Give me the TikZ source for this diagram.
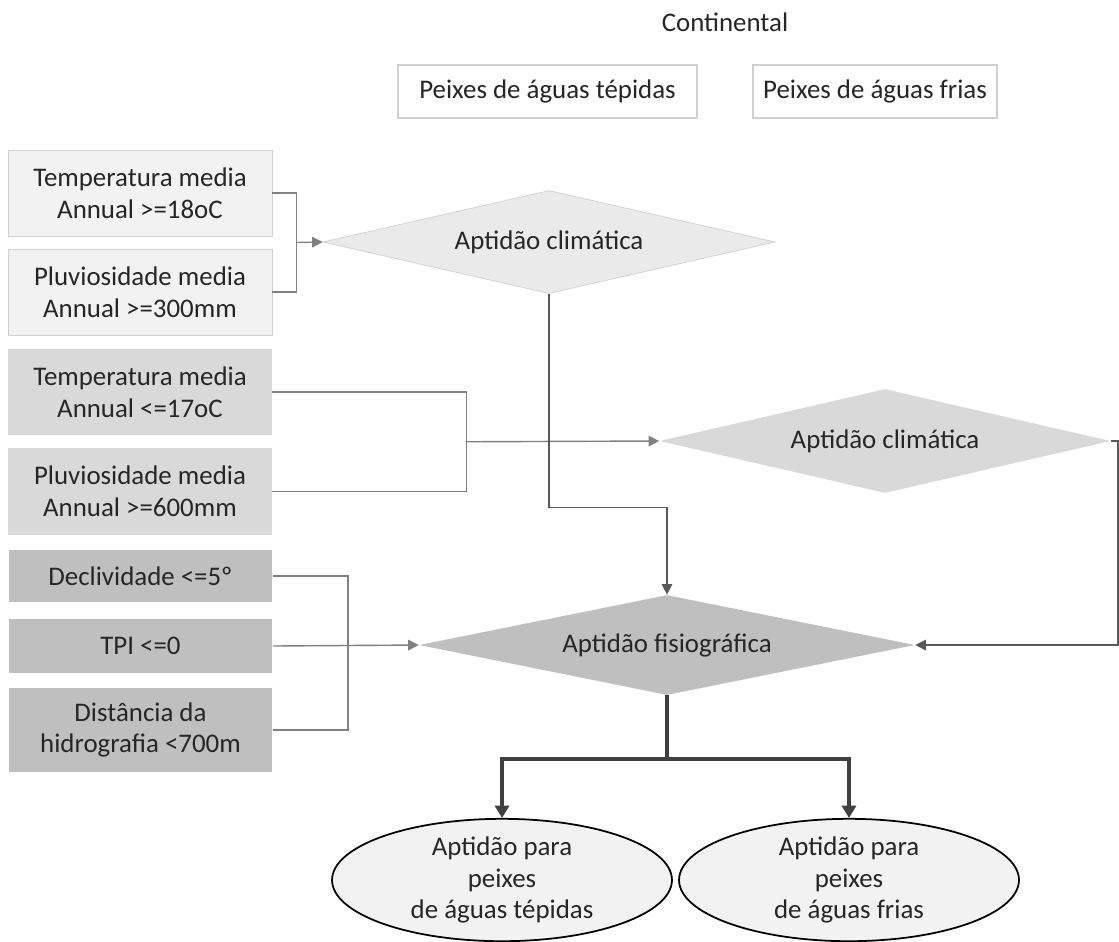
\documentclass[tikz,border=0pt]{standalone}
\usepackage{fontspec}
\setmainfont{Carlito}
\usetikzlibrary{shapes.geometric,arrows.meta,calc}
\definecolor{boxlight}{HTML}{F2F2F2}
\definecolor{boxmid}{HTML}{D9D9D9}
\definecolor{boxdark}{HTML}{BFBFBF}
\definecolor{edgelight}{HTML}{D0D0D0}
\definecolor{linegrey}{HTML}{808080}
\definecolor{linedark}{HTML}{595959}
\definecolor{linethick}{HTML}{404040}
\tikzset{
  txt/.style={font=\fontsize{15.3}{18}\selectfont, text=black!85, align=center},
  crit/.style={txt, rectangle, inner sep=2pt, minimum width=5.28cm},
  head/.style={txt, rectangle, draw=edgelight, fill=white, line width=0.8pt, minimum height=1.06cm},
  apt/.style={txt, diamond, inner sep=0pt, shape aspect=4.4},
  result/.style={txt, ellipse, draw=black, fill=boxlight, line width=1pt, minimum width=6.8cm, minimum height=2.3cm, inner sep=0pt},
  conn/.style={draw=linegrey, line width=0.8pt},
  connarrow/.style={conn, -{Triangle[length=6pt,width=6pt]}},
  bigarrow/.style={draw=linethick, line width=2.8pt, -{Triangle[length=7pt,width=8pt]}}
}

\begin{document}
\begin{tikzpicture}[x=0.02cm,y=-0.02cm]
    \useasboundingbox (0,0) rectangle (1119,941);

    % header
    \node[txt] (cont) at (725,22) {Continental};
    \node[head, minimum width=5.98cm] (tepid) at (547.5,91.5) {Peixes de águas tépidas};
    \node[head, minimum width=4.88cm] (cold) at (875,91.5) {Peixes de águas frias};

    % criteria
    \node[crit, fill=boxlight, draw=edgelight, minimum height=1.72cm] (t18) at (140,193) {Temperatura media\\Annual >=18oC};
    \node[crit, fill=boxlight, draw=edgelight, minimum height=1.72cm] (p300) at (140,292) {Pluviosidade media\\Annual >=300mm};
    \node[crit, fill=boxmid, minimum height=1.72cm] (t17) at (140,392) {Temperatura media\\Annual <=17oC};
    \node[crit, fill=boxmid, minimum height=1.74cm] (p600) at (140,491.5) {Pluviosidade media\\Annual >=600mm};
    \node[crit, fill=boxdark, minimum height=1.04cm] (decl) at (140.5,576) {Declividade <=5º};
    \node[crit, fill=boxdark, minimum height=1.08cm] (tpi) at (140.5,646) {TPI <=0};
    \node[crit, fill=boxdark, minimum height=1.68cm] (dist) at (140.5,730) {Distância da\\hidrografia <700m};

    % aptitudes
    \node[apt, fill=boxlight!70!boxmid, draw=edgelight, minimum width=9.04cm, minimum height=2.06cm] (clim1) at (549,242) {Aptidão climática};
    \node[apt, fill=boxmid, minimum width=9.02cm, minimum height=2.08cm] (clim2) at (885,441) {Aptidão climática};
    \node[apt, fill=boxdark, minimum width=9.92cm, minimum height=2.0cm] (fisio) at (667,645) {Aptidão fisiográfica};

    \node[result] (restep) at (502,880) {Aptidão para\\peixes\\de águas tépidas};
    \node[result] (rescold) at (849,880) {Aptidão para\\peixes\\de águas frias};

    % brackets
    \coordinate (j1) at ($(t18.east)!.5!(p300.east)+(24,0)$);
    \draw[conn] (t18.east) -- ++(24,0) |- (p300.east);
    \draw[connarrow] (j1) -- (clim1.west);

    \coordinate (j2) at ($(t17.east)!.5!(p600.east)+(194,0)$);
    \draw[conn] (t17.east) -- ++(194,0) |- (p600.east);
    \draw[connarrow] (j2) -- (clim2.west);

    \draw[conn] (decl.east) -- ++(75,0) |- (dist.east);
    \draw[connarrow] (tpi.east) -- (fisio.west);

    % flows into fisio
    \draw[connarrow, draw=linedark] (clim1.south) |- ($(fisio.north)+(0,-87)$) -- (fisio.north);
    \coordinate (rgt) at (1118,0);
    \draw[connarrow, draw=linedark] (clim2.east) -- (clim2.east -| rgt) |- (fisio.east);

    % results
    \coordinate (split) at (667,759);
    \draw[draw=linethick, line width=2.8pt] (fisio.south) -- (split);
    \draw[bigarrow] (split) -| (restep.north);
    \draw[bigarrow] (split) -| (rescold.north);
\end{tikzpicture}
\end{document}
